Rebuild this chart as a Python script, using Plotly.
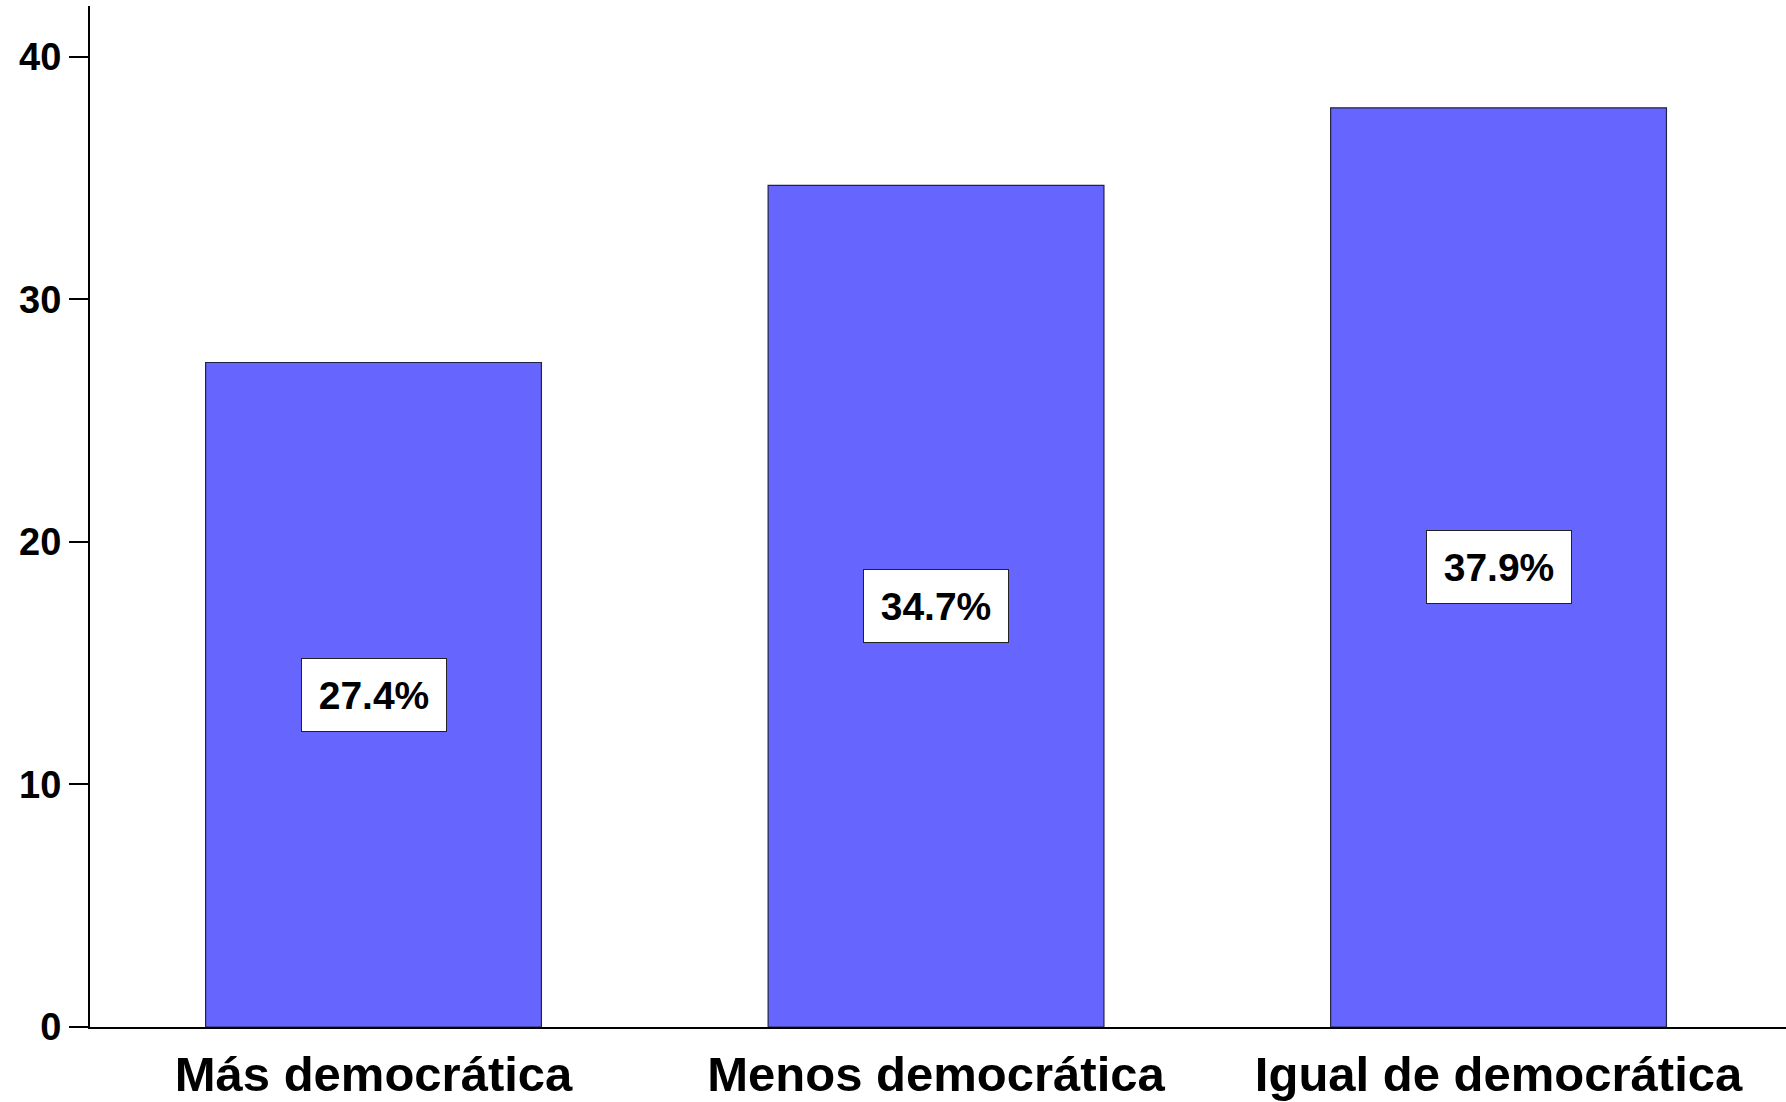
import plotly.graph_objects as go

categories = ["Más democrática", "Menos democrática", "Igual de democrática"]
values = [27.4, 34.7, 37.9]
y_ticks = [0, 10, 20, 30, 40]

FONT = "Liberation Sans, Arial, Helvetica, sans-serif"

fig = go.Figure()
fig.add_trace(go.Bar(
    x=categories,
    y=values,
    width=0.597,
    marker=dict(color="#6666FF", line=dict(color="#222244", width=1.2)),
    hoverinfo="skip",
))

for c, v in zip(categories, values):
    fig.add_annotation(
        x=c, y=v / 2, xref="x", yref="y",
        text=f"{v}%",
        showarrow=False,
        font=dict(family=FONT, size=39, color="black", weight="bold"),
        bgcolor="white",
        bordercolor="#222222",
        borderwidth=1,
        width=142, height=70,
        align="center", valign="middle",
    )

fig.update_layout(
    width=1786, height=1102, autosize=False,
    margin=dict(l=90, r=0, t=6, b=75),
    plot_bgcolor="white", paper_bgcolor="white",
    showlegend=False,
    font=dict(family=FONT, color="black"),
    bargap=0.4,
)
fig.update_xaxes(
    range=[-0.504, 2.511],
    showline=True, linecolor="black", linewidth=2,
    ticks="", showgrid=False, zeroline=False,
    ticklabelstandoff=3,
    tickfont=dict(family=FONT, size=49, color="black", weight="bold"),
)
fig.update_yaxes(
    range=[0, 42.1],
    tickvals=y_ticks,
    showline=True, linecolor="black", linewidth=2,
    ticks="outside", ticklen=19, tickwidth=2, tickcolor="black",
    showgrid=False, zeroline=False,
    tickfont=dict(family=FONT, size=38, color="black", weight="bold"),
)

fig.write_html(
    "out.html",
    config={"displayModeBar": False, "staticPlot": True},
    post_script="document.body.style.margin='0';document.body.style.overflow='hidden';",
)
